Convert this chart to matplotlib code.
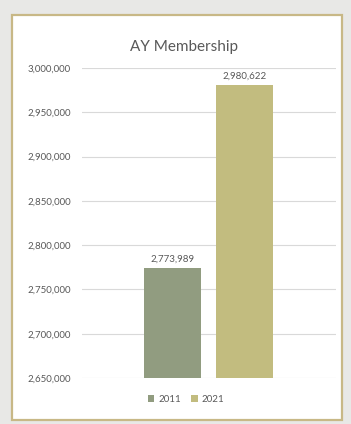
import matplotlib.pyplot as plt
from matplotlib.patches import Rectangle
from matplotlib.ticker import FuncFormatter

years = ['2011', '2021']
members = [2773989, 2980622]
colors = ['#919c80', '#c2bc7f']

plt.rcParams['font.family'] = ['Lato', 'DejaVu Sans']
text_color = '#595959'

fig = plt.figure(figsize=(3.51, 4.24), dpi=100)
fig.patch.set_facecolor('#e8e8e6')

# white chart card with a khaki border, kept behind the axes
card = Rectangle((12 / 351, 1 - 420 / 424), 330 / 351, 405 / 424,
                 transform=fig.transFigure, facecolor='white',
                 edgecolor='#c8b886', linewidth=1.6, zorder=-10)
fig.patches.append(card)

ax = fig.add_axes([82 / 351, 1 - 378 / 424, 254 / 351, 310 / 424])
ax.set_facecolor('none')
ax.set_zorder(1)

width = 0.79
for i, (yr, val, c) in enumerate(zip(years, members, colors)):
    ax.bar(i, val, width=width, color=c, label=yr, zorder=2)
    ax.text(i, val + 5000, f'{val:,}', ha='center', va='bottom',
            fontsize=7, color=text_color)

ax.set_xlim(-1.257, 2.271)
ax.set_ylim(2650000, 3000000)
ax.set_yticks(range(2650000, 3000001, 50000))
ax.yaxis.set_major_formatter(FuncFormatter(lambda v, p: f'{int(v):,}'))
ax.tick_params(axis='y', length=0, labelsize=7, labelcolor=text_color, pad=8)
ax.set_xticks([])
ax.grid(axis='y', color='#d9d9d9', linewidth=0.8, zorder=0)
for s in ax.spines.values():
    s.set_visible(False)

fig.text(184 / 351, 1 - 47 / 424, 'AY Membership',
         ha='center', va='center', fontsize=11, color=text_color, zorder=3)

fig.legend(loc='center', bbox_to_anchor=(186 / 351, 1 - 399 / 424), ncol=2,
           frameon=False, fontsize=7, labelcolor=text_color, handlelength=0.7,
           handleheight=0.7, handletextpad=0.4, columnspacing=1.0)

fig.savefig('out.png', dpi=100, facecolor=fig.get_facecolor())
